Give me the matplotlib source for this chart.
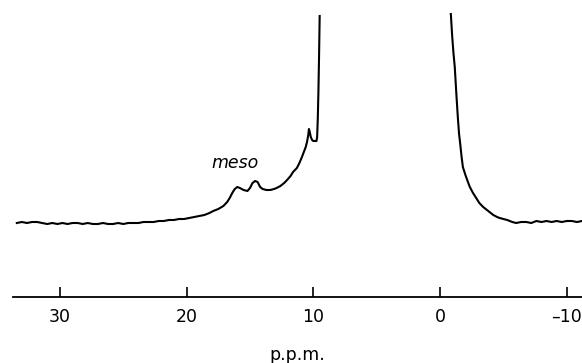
import matplotlib
matplotlib.use("Agg")
import matplotlib.pyplot as plt

# low-field branch (ppm, intensity in arbitrary units)
ppm_left = [33.4, 33.0, 32.6, 32.2, 31.8, 31.4, 31.0, 30.6, 30.2, 29.8, 29.4, 29.0,
            28.6, 28.2, 27.8, 27.4, 27.0, 26.6, 26.2, 25.8, 25.4, 25.0, 24.6, 24.2,
            23.8, 23.4, 23.0, 22.6, 22.2, 21.8, 21.4, 21.0, 20.6, 20.2, 19.8, 19.4,
            19.0, 18.6, 18.2, 17.9, 17.5, 17.1, 16.8, 16.6, 16.4, 16.2, 16.0, 15.8,
            15.5, 15.2, 15.0, 14.8, 14.6, 14.4, 14.2, 14.0, 13.7, 13.4, 13.1, 12.9,
            12.6, 12.3, 12.0, 11.8, 11.6, 11.3, 11.1, 10.9, 10.75, 10.6, 10.5, 10.4,
            10.35, 10.3, 10.2, 10.1, 10.0, 9.85, 9.75, 9.7, 9.65, 9.6, 9.55, 9.5]
int_left = [74, 75, 74, 75, 75, 74, 73, 74, 73, 74, 73, 74,
            74, 73, 74, 73, 73, 74, 73, 73, 74, 73, 74, 74,
            74, 75, 75, 75, 76, 76, 77, 77, 78, 78, 79, 80,
            81, 82, 84, 86, 88, 91, 95, 99, 104, 108, 110, 109,
            107, 106, 109, 114, 116, 115, 110, 108, 107, 107, 108, 109,
            111, 114, 118, 121, 125, 129, 134, 140, 145, 150, 155, 162,
            168, 166, 160, 157, 156, 156, 156, 160, 178, 205, 240, 281]

# high-field branch
ppm_right = [-0.85, -0.95, -1.05, -1.16, -1.3, -1.4, -1.5, -1.6, -1.7, -1.8, -2.0,
             -2.2, -2.35, -2.6, -2.9, -3.1, -3.4, -3.7, -4.0, -4.2, -4.5, -4.7,
             -5.0, -5.3, -5.7, -6.0, -6.4, -6.8, -7.2, -7.6, -8.0, -8.4, -8.8,
             -9.2, -9.6, -10.0, -10.4, -10.8, -11.2]
int_right = [283, 262, 245, 230, 200, 180, 163, 152, 140, 130, 122,
             115, 110, 104, 98, 94, 90, 87, 84, 82, 80, 79,
             78, 77, 75, 74, 75, 75, 74, 76, 75, 76, 75,
             76, 75, 76, 76, 75, 76]

tick_vals = [30, 20, 10, 0, -10]

fig = plt.figure(figsize=(5.82, 3.63), dpi=100)
ax = fig.add_axes([13 / 582, 66 / 363, 569 / 582, 297 / 363])

ax.plot(ppm_left, int_left, color="black", lw=1.5, solid_joinstyle="round")
ax.plot(ppm_right, int_right, color="black", lw=1.5, solid_joinstyle="round")

ax.set_xlim(33.7, -11.2)
ax.set_ylim(0, 297)

for s in ["top", "right", "left"]:
    ax.spines[s].set_visible(False)
ax.spines["bottom"].set_linewidth(1.3)
ax.set_yticks([])
ax.set_xticks(tick_vals)
ax.set_xticklabels([str(v).replace("-", "\u2013") for v in tick_vals])
ax.tick_params(axis="x", direction="in", length=7.5, width=1.2, pad=8, labelsize=12.5)

ax.set_xlabel("p.p.m.", fontsize=12.5, labelpad=14)
ax.text(16.2, 134, "meso", fontsize=12.5, style="italic", ha="center", va="center")

fig.savefig("out.png", dpi=100)
